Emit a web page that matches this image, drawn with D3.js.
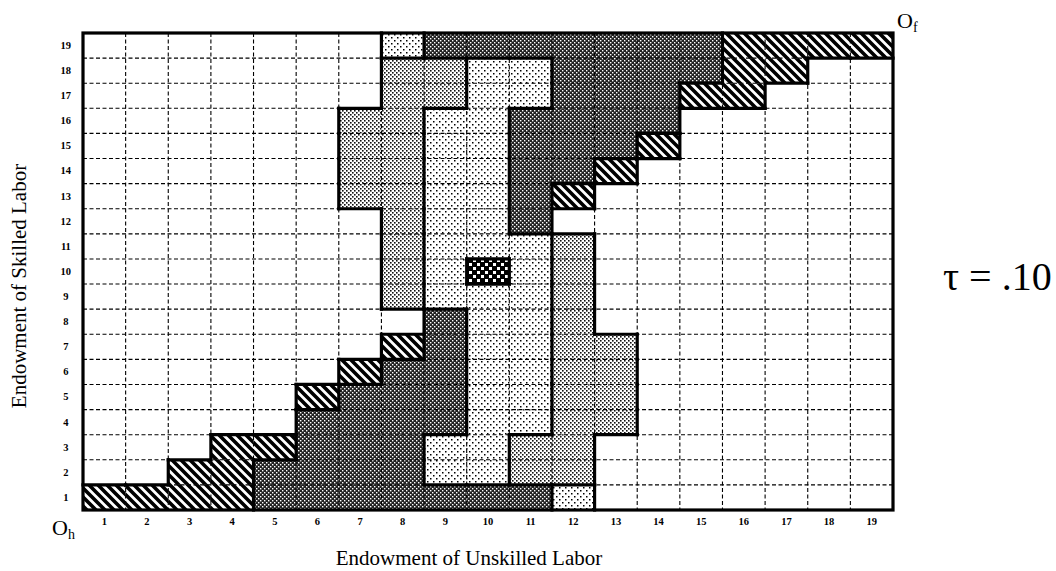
<!DOCTYPE html>
<html>
<head>
<meta charset="utf-8">
<script src="https://cdn.jsdelivr.net/npm/d3@7"></script>
<style>
body { margin: 0; background: #fff; }
text { font-family: "Liberation Serif", "Times New Roman", serif; }
</style>
</head>
<body>
<div id="chart"></div>
<script>
// tick labels
var colLabels = [1,2,3,4,5,6,7,8,9,10,11,12,13,14,15,16,17,18,19];
var rowLabels = [19,18,17,16,15,14,13,12,11,10,9,8,7,6,5,4,3,2,1];

// regime of each cell, top row (19) first, columns 1..19
// . none, H hatched, D dark, M medium dots, L light dots, C checker
var regimes = [
  ".......LDDDDDDDHHHH",
  ".......MMLLDDDDHH..",
  ".......MMLLDDDHH...",
  "......MMLLDDDD.....",
  "......MMLLDDDH.....",
  "......MMLLDDH......",
  "......MMLLDH.......",
  ".......MLLD........",
  ".......MLLLM.......",
  ".......MLCLM.......",
  ".......MLLLM.......",
  "........DLLM.......",
  ".......HDLLMM......",
  "......HDDLLMM......",
  ".....HDDDLLMM......",
  ".....DDDDLLMM......",
  "...HHDDDLLMM.......",
  "..HHDDDDLLMM.......",
  "HHHHDDDDDDDL......."
];

var width = 1056, height = 571;
var pLeft = 83, pRight = 893, pTop = 33, pBottom = 510;

var svg = d3.select("#chart").append("svg")
    .attr("width", width)
    .attr("height", height);

// fill patterns
var defs = svg.append("defs");

var hatch = defs.append("pattern").attr("id", "fillH")
    .attr("patternUnits", "userSpaceOnUse").attr("width", 9).attr("height", 9);
hatch.append("rect").attr("width", 9).attr("height", 9).attr("fill", "#fff");
hatch.append("path").attr("d", "M-2,-2 L11,11 M-2,7 L2,11 M7,-2 L11,2")
    .attr("stroke", "#000").attr("stroke-width", 3.6);

var dark = defs.append("pattern").attr("id", "fillD")
    .attr("patternUnits", "userSpaceOnUse").attr("width", 4).attr("height", 4);
dark.append("rect").attr("width", 4).attr("height", 4).attr("fill", "#222");
dark.append("rect").attr("x", 0).attr("y", 0).attr("width", 1.4).attr("height", 1.4).attr("fill", "#fff");
dark.append("rect").attr("x", 2).attr("y", 2).attr("width", 1.4).attr("height", 1.4).attr("fill", "#fff");

var med = defs.append("pattern").attr("id", "fillM")
    .attr("patternUnits", "userSpaceOnUse").attr("width", 4).attr("height", 4);
med.append("rect").attr("width", 4).attr("height", 4).attr("fill", "#fff");
med.append("rect").attr("x", 0).attr("y", 0).attr("width", 1.6).attr("height", 1.6).attr("fill", "#111");
med.append("rect").attr("x", 2).attr("y", 2).attr("width", 1.6).attr("height", 1.6).attr("fill", "#111");

var light = defs.append("pattern").attr("id", "fillL")
    .attr("patternUnits", "userSpaceOnUse").attr("width", 6).attr("height", 6);
light.append("rect").attr("width", 6).attr("height", 6).attr("fill", "#fff");
light.append("rect").attr("x", 1).attr("y", 1).attr("width", 1.5).attr("height", 1.5).attr("fill", "#000");
light.append("rect").attr("x", 4).attr("y", 4).attr("width", 1.5).attr("height", 1.5).attr("fill", "#000");

var check = defs.append("pattern").attr("id", "fillC")
    .attr("patternUnits", "userSpaceOnUse").attr("width", 8).attr("height", 8)
    .attr("x", 0).attr("y", 2);
check.append("rect").attr("width", 8).attr("height", 8).attr("fill", "#000");
check.append("rect").attr("x", 1).attr("y", 1).attr("width", 3).attr("height", 3).attr("fill", "#fff");
check.append("rect").attr("x", 5).attr("y", 5).attr("width", 3).attr("height", 3).attr("fill", "#fff");

var fills = { ".": "#fff", "H": "url(#fillH)", "D": "url(#fillD)", "M": "url(#fillM)", "L": "url(#fillL)", "C": "url(#fillC)" };

// scales
var x = d3.scaleBand().domain(colLabels).range([pLeft, pRight]);
var y = d3.scaleBand().domain(rowLabels).range([pTop, pBottom]);

// cell list
var cells = [];
regimes.forEach(function(row, i) {
  row.split("").forEach(function(code, j) {
    cells.push({ col: colLabels[j], row: rowLabels[i], code: code });
  });
});

svg.append("g").selectAll("rect")
    .data(cells)
    .enter()
    .append("rect")
    .attr("x", function(d) { return x(d.col); })
    .attr("y", function(d) { return y(d.row); })
    .attr("width", x.bandwidth())
    .attr("height", y.bandwidth())
    .attr("fill", function(d) { return fills[d.code]; });

// dashed grid
var grid = svg.append("g")
    .attr("stroke", "#000")
    .attr("stroke-width", 1.1)
    .attr("stroke-dasharray", "4,2.5");
colLabels.slice(1).forEach(function(c) {
  grid.append("line").attr("x1", x(c)).attr("x2", x(c)).attr("y1", pTop).attr("y2", pBottom);
});
rowLabels.slice(1).forEach(function(r) {
  grid.append("line").attr("x1", pLeft).attr("x2", pRight).attr("y1", y(r)).attr("y2", y(r));
});

// thick borders between different regimes
var edges = [];
regimes.forEach(function(row, i) {
  for (var j = 0; j < row.length; j++) {
    var c = row[j];
    if (j < row.length - 1 && row[j + 1] !== c) {
      edges.push([x(colLabels[j + 1]), y(rowLabels[i]), x(colLabels[j + 1]), y(rowLabels[i]) + y.bandwidth()]);
    }
    if (i < regimes.length - 1 && regimes[i + 1][j] !== c) {
      edges.push([x(colLabels[j]), y(rowLabels[i + 1]), x(colLabels[j]) + x.bandwidth(), y(rowLabels[i + 1])]);
    }
  }
});

svg.append("g").selectAll("line")
    .data(edges)
    .enter()
    .append("line")
    .attr("x1", function(d) { return d[0]; })
    .attr("y1", function(d) { return d[1]; })
    .attr("x2", function(d) { return d[2]; })
    .attr("y2", function(d) { return d[3]; })
    .attr("stroke", "#000")
    .attr("stroke-width", 3.2)
    .attr("stroke-linecap", "square");

svg.append("rect")
    .attr("x", pLeft).attr("y", pTop)
    .attr("width", pRight - pLeft).attr("height", pBottom - pTop)
    .attr("fill", "none")
    .attr("stroke", "#000")
    .attr("stroke-width", 3.2);

// axes
var xAxis = svg.append("g")
    .attr("transform", "translate(0," + (pBottom + 8) + ")")
    .call(d3.axisBottom(x).tickSize(0).tickPadding(0));
var yAxis = svg.append("g")
    .attr("transform", "translate(" + (pLeft - 14) + ",0)")
    .call(d3.axisLeft(y).tickSize(0).tickPadding(0));
[xAxis, yAxis].forEach(function(a) {
  a.select(".domain").remove();
  a.selectAll("text")
    .attr("font-family", "'Liberation Serif', serif")
    .attr("font-size", 10.5)
    .attr("font-weight", "bold")
    .attr("fill", "#000");
});
yAxis.selectAll("text").attr("text-anchor", "middle").attr("dx", "-0.3em");

// titles
svg.append("text")
    .attr("x", 469).attr("y", 565)
    .attr("text-anchor", "middle")
    .attr("font-size", 21)
    .text("Endowment of Unskilled Labor");

svg.append("text")
    .attr("transform", "translate(26,286) rotate(-90)")
    .attr("text-anchor", "middle")
    .attr("font-size", 21)
    .text("Endowment of Skilled Labor");

var oh = svg.append("text").attr("x", 52).attr("y", 535).attr("font-size", 22);
oh.append("tspan").text("O");
oh.append("tspan").attr("font-size", 14).attr("dy", 4).text("h");

var of = svg.append("text").attr("x", 897).attr("y", 28).attr("font-size", 22);
of.append("tspan").text("O");
of.append("tspan").attr("font-size", 14).attr("dy", 4).text("f");

svg.append("text")
    .attr("x", 943).attr("y", 290)
    .attr("font-size", 40)
    .text("\u03c4 = .10");
</script>
</body>
</html>
